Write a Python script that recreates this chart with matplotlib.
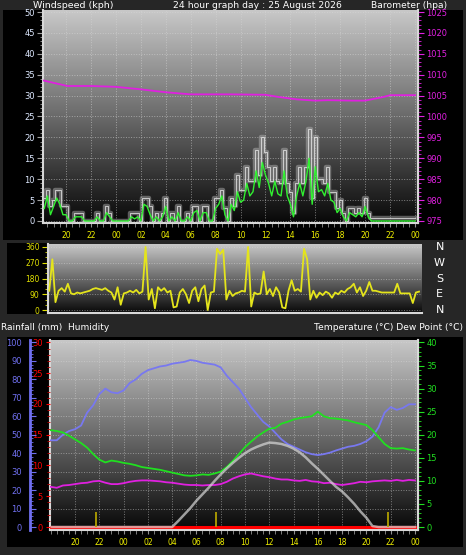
import numpy as np
import matplotlib.pyplot as plt
from matplotlib.colors import LinearSegmentedColormap
from matplotlib.patches import Rectangle
from matplotlib.ticker import MultipleLocator, FuncFormatter
import matplotlib.transforms as mtransforms

plt.rcParams['font.family'] = ['DejaVu Sans']

# ---- data (hours, 20 = 20:00 of the day before, 48 = 00:00 next day) ----
wind_start, wind_step = 18.25, 0.25
gust = [5.5, 7.4, 3.5, 5, 7.4, 7.4, 3.5, 3.5, 0, 0, 2, 2, 2, 0, 0, 0, 0, 2, 0, 0,
        3.5, 2, 0, 0, 0, 0, 0, 0, 2, 2, 2, 0, 5.5, 5.5, 3.5, 0, 2, 0, 2, 5.5,
        0, 2, 0, 3.5, 0, 0, 2, 0, 3.5, 3.5, 0, 3.5, 3.5, 0, 0, 5.5, 5.5, 7.4, 3, 0,
        5.5, 3.5, 11, 7.4, 7.4, 13, 9.5, 9.5, 17, 11, 20, 16.6, 13, 9.5, 13, 9.5, 9, 17, 9, 7,
        2, 9, 13, 9, 13, 22, 5.5, 20, 10, 10, 9, 13, 7, 7, 3, 5, 2, 0, 3, 3,
        2, 3, 2, 5.5, 2, 0.8, 0.8, 0.8, 0.8, 0.8, 0.8, 0.8, 0.8, 0.8, 0.8, 0.8, 0.8, 0.8, 0.8, 0.8]
speed = [3, 6, 1.5, 3.5, 5.5, 4, 1.5, 1.5, 0, 0, 1, 1, 1, 0, 0, 0, 0, 1, 0, 0,
         2, 1, 0, 0, 0, 0, 0, 0, 1, 0.5, 1, 0, 4, 3.5, 1.5, 0, 1, 0, 1, 3.5,
         0, 1, 0, 2, 0, 0, 1, 0, 2, 2.5, 0, 2, 2, 0, 0, 3, 4, 6, 1.5, 0,
         4, 2.5, 7, 4.5, 5, 9, 6, 7, 12, 8, 14, 11, 9, 6, 9.5, 6.5, 6, 12, 6, 4,
         1, 6, 9, 6, 9.5, 15, 4, 13, 7, 7.5, 6, 9, 5, 4.5, 2, 3, 1, 0, 2, 1.5,
         1, 2, 1, 3.5, 1, 0, 0, 0, 0, 0, 0, 0, 0, 0, 0, 0, 0, 0, 0, 0]
direction = [110, 290, 45, 110, 125, 105, 150, 95, 90, 100, 95, 100, 105, 110, 120, 125, 120, 115, 125, 110,
             100, 60, 130, 30, 95, 100, 110, 100, 115, 95, 105, 360, 60, 120, 10, 130, 110, 125, 100, 110,
             15, 20, 100, 120, 90, 40, 110, 130, 50, 120, 140, 0, 100, 105, 350, 320, 345, 60, 110, 80,
             95, 100, 110, 105, 360, 20, 100, 90, 95, 220, 90, 120, 80, 130, 100, 15, 10, 110, 170, 110,
             120, 105, 350, 290, 60, 110, 70, 100, 85, 105, 95, 70, 100, 90, 110, 100, 120, 130, 150, 100,
             130, 80, 110, 160, 110, 110, 105, 100, 100, 100, 100, 100, 150, 95, 95, 95, 95, 40, 100, 105]

baro_hours = [18.2, 20.1, 22.0, 24.0, 26.0, 28.0, 30.0, 32.0, 33.2, 36.0, 37.0, 38.5,
              40.0, 41.0, 43.0, 44.0, 44.5, 45.5, 46.0, 48.0]
baro = [1008.6, 1007.3, 1007.3, 1007.1, 1006.5, 1005.8, 1005.3, 1005.3, 1005.3, 1005.2, 1004.7, 1004.1,
        1003.8, 1003.9, 1003.8, 1003.8, 1004.1, 1004.7, 1005.1, 1005.1]

clim_start, clim_step = 18.0, 0.5
humidity = [47, 47, 50, 52, 53, 55, 62, 66, 72, 75, 73, 72.5, 74, 78, 80, 83, 85, 86, 87, 87.5,
            88.5, 89, 89.5, 90.5, 90, 89, 88.5, 88, 86.5, 82, 78.5, 75, 70, 65, 61, 57, 54.5, 51, 47.5, 45,
            43.5, 42, 40.5, 39.5, 39, 39.5, 40.3, 41.5, 42.5, 43.5, 44, 45, 46.5, 49, 54, 62, 65, 63.5, 64.5, 66.5,
            66.5]
temperature = [21.0, 20.8, 20.5, 19.8, 19.0, 18.2, 17.2, 15.8, 14.6, 14.0, 14.4, 14.2, 13.9, 13.7, 13.4, 13.0, 12.8, 12.6, 12.4, 12.1,
               11.8, 11.5, 11.2, 11.1, 11.2, 11.4, 11.3, 11.6, 12.0, 13.0, 14.3, 15.8, 17.3, 18.5, 19.6, 20.5, 21.3, 21.5, 22.4, 22.8,
               23.3, 23.6, 23.8, 24.0, 25.0, 24.0, 23.6, 23.5, 23.3, 23.1, 22.7, 22.4, 22.1, 21.0, 19.5, 18.0, 17.1, 17.0, 17.1, 16.8,
               16.6]
dewpoint = [8.7, 8.5, 9.0, 9.1, 9.3, 9.5, 9.6, 9.9, 10.0, 9.6, 9.3, 9.3, 9.5, 9.8, 10.0, 10.1, 10.1, 10.0, 9.9, 9.7,
            9.6, 9.4, 9.2, 9.1, 9.1, 9.0, 9.1, 9.1, 9.3, 9.8, 10.5, 11.0, 11.4, 11.6, 11.3, 11.0, 10.8, 10.5, 10.3, 10.3,
            10.1, 10.0, 10.2, 9.9, 9.8, 9.5, 9.6, 9.3, 9.1, 9.3, 9.5, 9.8, 9.7, 9.9, 10.0, 10.1, 10.0, 10.2, 10.0, 10.2,
            10.1]
solar = [0, 0, 0, 0, 0, 0, 0, 0, 0, 0, 0, 0, 0, 0, 0, 0, 0, 0, 0, 0,
         0, 1.3, 2.7, 4.1, 5.7, 7.1, 8.5, 10.0, 11.4, 12.7, 13.9, 15.0, 16.0, 16.8, 17.4, 17.9, 18.3, 18.2, 18.0, 17.6,
         17.0, 16.2, 15.1, 13.8, 12.6, 11.3, 10.0, 8.7, 7.7, 6.4, 5.0, 3.4, 2.0, 0.2, 0, 0, 0, 0, 0, 0,
         0]
rainfall = [0] * 61
rain_tip_hours = [21.73, 31.6, 45.76]
rain_tip_mm = [2.5, 2.5, 2.5]
hour_ticks = list(range(20, 49, 2))

t_wind = wind_start + wind_step * np.arange(len(gust))
t_clim = clim_start + clim_step * np.arange(len(humidity))

BG = '#262626'
fig = plt.figure(figsize=(4.66, 5.55), dpi=100, facecolor=BG)
W, H = 466, 555


def frac(x0, y0, x1, y1):
    return [x0 / W, 1 - y1 / H, (x1 - x0) / W, (y1 - y0) / H]


for box in [(3, 10, 463, 240), (7, 243, 48, 314), (7, 337, 463, 547)]:
    l, b, w, h = frac(*box)
    fig.patches.append(Rectangle((l, b), w, h, transform=fig.transFigure,
                                 facecolor='black', edgecolor='none', zorder=-10))

cmap = LinearSegmentedColormap.from_list('bg', ['#080808', '#6a6a6a', '#c8c8c8'])
grad = np.linspace(0, 1, 256).reshape(-1, 1)
hour_fmt = FuncFormatter(lambda v, p: '%02d' % (int(round(v)) % 24))


def style(ax, xlim, ylim):
    ax.set_xlim(*xlim)
    ax.set_ylim(*ylim)
    ax.imshow(grad, extent=[0, 1, 0, 1], transform=ax.transAxes, aspect='auto',
              cmap=cmap, origin='lower', zorder=0)
    ax.set_facecolor('black')
    ax.spines['top'].set_visible(False)
    for s in ['left', 'bottom', 'right']:
        ax.spines[s].set_color('#d8d8d8')
        ax.spines[s].set_linewidth(1.5)


# ---- top panel: wind + barometer ----
ax1 = fig.add_axes(frac(43, 10, 418, 223))
style(ax1, (18.15, 48.24), (-0.48, 50.48))
ax1.set_xticks(hour_ticks)
ax1.xaxis.set_minor_locator(MultipleLocator(0.5))
ax1.xaxis.set_major_formatter(hour_fmt)
ax1.yaxis.set_major_locator(MultipleLocator(5))
ax1.yaxis.set_minor_locator(MultipleLocator(1))
ax1.tick_params(axis='x', which='both', colors='#909090', labelcolor='#f0f000', labelsize=5.5, length=3, pad=3)
ax1.tick_params(axis='y', which='major', colors='#a0a0a0', labelcolor='#dde8ff', labelsize=6, length=4, pad=2)
ax1.tick_params(axis='y', which='minor', colors='#a0a0a0', length=2)
ax1.grid(True, which='major', color='#d8d8d8', linestyle=':', linewidth=0.7, alpha=0.55)
ax1.plot(t_wind, gust, drawstyle='steps-mid', color='#bcbcbc', lw=3.2, alpha=0.45, zorder=3)
ax1.plot(t_wind, gust, drawstyle='steps-mid', color='#ffffff', lw=0.7, alpha=0.65, zorder=3)
ax1.plot(t_wind, speed, color='#30f030', lw=1.0, zorder=4)

ax1b = ax1.twinx()
ax1b.set_ylim(975 - 0.48, 1025.48)
ax1b.yaxis.set_major_locator(MultipleLocator(5))
ax1b.yaxis.set_minor_locator(MultipleLocator(1))
ax1b.tick_params(axis='y', which='major', colors='#e020e0', labelcolor='#e020e0', labelsize=6, length=4, pad=2)
ax1b.tick_params(axis='y', which='minor', colors='#e020e0', length=2)
for s in ['top', 'left', 'bottom']:
    ax1b.spines[s].set_visible(False)
ax1b.spines['right'].set_color('#d8d8d8')
ax1b.spines['right'].set_linewidth(1.5)
ax1b.plot(baro_hours, baro, color='#e020e0', lw=1.3)

fig.text(33 / W, 1 - 5 / H, 'Windspeed (kph)', color='white', fontsize=6.8, va='center', ha='left')
fig.text(257 / W, 1 - 5 / H, '24 hour graph day : 25 August 2026', color='white', fontsize=6.7,
         va='center', ha='center')
fig.text(447 / W, 1 - 5 / H, 'Barometer (hpa)', color='white', fontsize=6.6, va='center', ha='right')

# ---- middle panel: wind direction ----
ax2 = fig.add_axes(frac(48, 244, 422, 313))
style(ax2, (18.15, 48.24), (-17, 377))
ax2.spines['right'].set_visible(False)
ax2.set_xticks([])
ax2.set_yticks([0, 90, 180, 270, 360])
ax2.yaxis.set_minor_locator(MultipleLocator(30))
ax2.tick_params(axis='y', which='major', colors='#e0e000', labelcolor='#e0e000', labelsize=5.5, length=4, pad=2)
ax2.tick_params(axis='y', which='minor', colors='#e0e000', length=2)
ax2.grid(True, axis='y', color='#d8d8d8', linestyle=':', linewidth=0.7, alpha=0.5)
ax2.plot(t_wind, direction, color='#e4e41c', lw=1.3, zorder=3)
trans = mtransforms.blended_transform_factory(ax2.transAxes, ax2.transData)
for lab, val in zip(['N', 'W', 'S', 'E', 'N'], [360, 270, 180, 90, 0]):
    ax2.text(1.047, val, lab, transform=trans, color='white', fontsize=8, ha='center', va='center')

fig.text(1 / W, 1 - 327 / H, 'Rainfall (mm)  Humidity', color='white', fontsize=6.5, va='center', ha='left')
fig.text(463 / W, 1 - 327 / H, 'Temperature (\u00b0C) Dew Point (\u00b0C)', color='white', fontsize=6.6,
         va='center', ha='right')

# ---- bottom panel: temperature, humidity, rain ----
ax3 = fig.add_axes(frac(50, 340, 418, 530))
style(ax3, (17.94, 48.25), (-0.65, 40.54))
ax3.set_xticks(hour_ticks)
ax3.xaxis.set_minor_locator(MultipleLocator(0.5))
ax3.xaxis.set_major_formatter(hour_fmt)
ax3.tick_params(axis='x', which='both', colors='#909090', labelcolor='#f0f000', labelsize=5.5, length=3, pad=3)
ax3.set_yticks([h * 0.4 for h in range(0, 101, 10)])
ax3.tick_params(axis='y', which='both', left=False, labelleft=False)
ax3.grid(True, which='major', color='#d8d8d8', linestyle=':', linewidth=0.7, alpha=0.5)

hum = [h * 0.4 for h in humidity]
ax3.plot(t_clim, hum, color='#7878f0', lw=1.3, zorder=3)
ax3.plot(t_clim, temperature, color='#20e020', lw=1.3, zorder=3)
ax3.plot(t_clim, dewpoint, color='#e020e0', lw=1.3, zorder=3)
ax3.plot(t_clim, [r * 40 / 30 for r in rainfall], color='#ff0000', lw=2.2, zorder=3)
ax3.plot(t_clim, solar, color='#d8d8d8', lw=1.8, alpha=0.7, zorder=4)
ax3.vlines(rain_tip_hours, 0, [r * 40 / 30 for r in rain_tip_mm], color='#b0a000', lw=1.3, zorder=5)

# rain axis (red, on the plot's left spine)
ax_rain = ax3.twinx()
ax_rain.set_ylim(-0.65 * 0.75, 40.54 * 0.75)
ax_rain.yaxis.set_ticks_position('left')
ax_rain.yaxis.set_label_position('left')
ax_rain.yaxis.set_major_locator(MultipleLocator(5))
ax_rain.yaxis.set_minor_locator(MultipleLocator(1))
ax_rain.tick_params(axis='y', which='major', colors='#ff0000', labelcolor='#ff0000', labelsize=6, length=3, pad=2)
ax_rain.tick_params(axis='y', which='minor', colors='#c00000', length=2)
for s in ['top', 'right', 'bottom', 'left']:
    ax_rain.spines[s].set_visible(False)

# humidity axis (blue, offset to the left)
ax_hum = ax3.twinx()
ax_hum.set_ylim(-0.65 * 2.5, 40.54 * 2.5)
ax_hum.yaxis.set_ticks_position('left')
ax_hum.spines['left'].set_position(('outward', 14.4))
ax_hum.spines['left'].set_color('#7070f0')
ax_hum.spines['left'].set_linewidth(2)
for s in ['top', 'right', 'bottom']:
    ax_hum.spines[s].set_visible(False)
ax_hum.yaxis.set_major_locator(MultipleLocator(10))
ax_hum.yaxis.set_minor_locator(MultipleLocator(2))
ax_hum.tick_params(axis='y', which='major', direction='in', colors='#7070f0', labelcolor='#7070f0',
                   labelsize=6, length=4, pad=6)
ax_hum.tick_params(axis='y', which='minor', direction='in', colors='#7070f0', length=2)

# temperature axis (green, right)
ax_temp = ax3.twinx()
ax_temp.set_ylim(-0.65, 40.54)
ax_temp.yaxis.set_major_locator(MultipleLocator(5))
ax_temp.yaxis.set_minor_locator(MultipleLocator(1))
ax_temp.tick_params(axis='y', which='major', colors='#20e020', labelcolor='#20e020', labelsize=6, length=4, pad=2)
ax_temp.tick_params(axis='y', which='minor', colors='#20e020', length=2)
for s in ['top', 'left', 'bottom']:
    ax_temp.spines[s].set_visible(False)
ax_temp.spines['right'].set_color('#d8d8d8')
ax_temp.spines['right'].set_linewidth(1.5)

fig.savefig('out.png', dpi=100, facecolor=BG)
